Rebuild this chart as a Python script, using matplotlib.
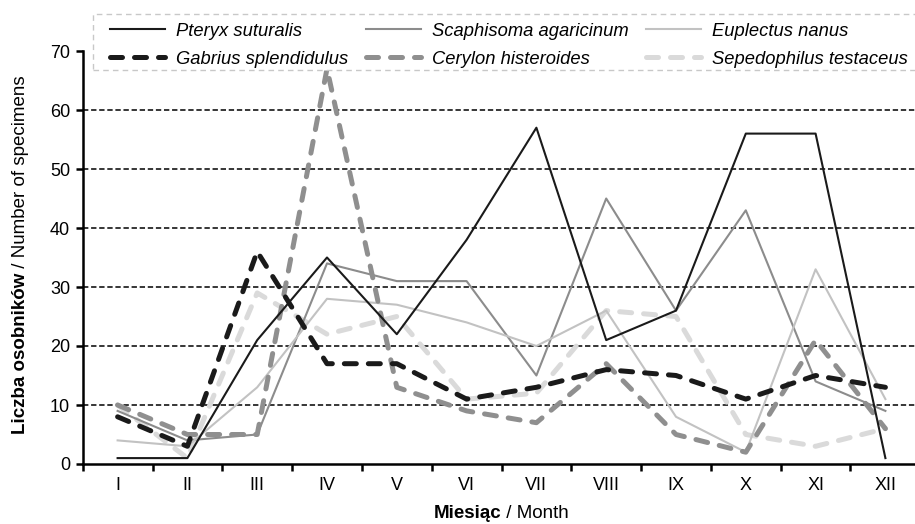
import matplotlib
matplotlib.use('Agg')
import matplotlib.pyplot as plt
from matplotlib.patches import Rectangle
import numpy as np

plt.rcParams['font.family'] = ['Liberation Sans', 'DejaVu Sans']

months = ['I', 'II', 'III', 'IV', 'V', 'VI', 'VII', 'VIII', 'IX', 'X', 'XI', 'XII']
pteryx = [1, 1, 21, 35, 22, 38, 57, 21, 26, 56, 56, 1]
scaphisoma = [9, 4, 5, 34, 31, 31, 15, 45, 26, 43, 14, 9]
euplectus = [4, 3, 13, 28, 27, 24, 20, 26, 8, 2, 33, 11]
gabrius = [8, 3, 36, 17, 17, 11, 13, 16, 15, 11, 15, 13]
cerylon = [10, 5, 5, 67, 13, 9, 7, 17, 5, 2, 21, 6]
sepedophilus = [10, 1, 29, 22, 25, 11, 12, 26, 25, 5, 3, 6]

W, H = 915, 524
fig = plt.figure(figsize=(W / 100, H / 100), dpi=100)
ax = fig.add_axes([82.7 / W, 60 / H, 837.6 / W, 413 / H])
x = np.arange(1, len(months) + 1)

# grid lines
for v in range(10, 70, 10):
    ax.axhline(v, color='black', lw=1.1, ls=(0, (3.5, 1.8)), zorder=1)

dash = (0, (2.4, 2.4))
l_pt, = ax.plot(x, pteryx, color='#1a1a1a', lw=1.5, zorder=5, label='Pteryx suturalis')
l_sc, = ax.plot(x, scaphisoma, color='#8c8c8c', lw=1.5, zorder=3, label='Scaphisoma agaricinum')
l_eu, = ax.plot(x, euplectus, color='#c2c2c2', lw=1.5, zorder=3, label='Euplectus nanus')
l_ga, = ax.plot(x, gabrius, color='#1a1a1a', lw=3.6, ls=dash, dash_capstyle='round',
                zorder=4, label='Gabrius splendidulus')
l_ce, = ax.plot(x, cerylon, color='#8f8f8f', lw=3.6, ls=dash, dash_capstyle='round',
                zorder=3, label='Cerylon histeroides')
l_se, = ax.plot(x, sepedophilus, color='#dadada', lw=3.6, ls=dash, dash_capstyle='round',
                zorder=2, label='Sepedophilus testaceus')

ax.set_xlim(0.5, 12.5)
ax.set_ylim(0, 70)
ax.set_yticks(range(0, 71, 10))
ax.set_xticks(x)
ax.set_xticklabels(months)
ax.set_xticks(np.arange(0.5, 12.6, 1), minor=True)
ax.tick_params(axis='x', which='major', length=0, pad=9, labelsize=13)
ax.tick_params(axis='x', which='minor', length=5, width=1.8, direction='out')
ax.tick_params(axis='y', length=5, width=1.8, direction='out', pad=4, labelsize=13)
for s in ['top', 'right']:
    ax.spines[s].set_visible(False)
for s in ['left', 'bottom']:
    ax.spines[s].set_linewidth(1.8)

# legend box drawn separately
frame = Rectangle((93 / W, 1 - 70 / H), (925 - 93) / W, 56 / H, transform=fig.transFigure,
                  facecolor='white', edgecolor='#c8c8c8', lw=1.0, ls=(0, (4, 3)), zorder=5)
fig.add_artist(frame)

handles = [l_pt, l_ga, l_sc, l_ce, l_eu, l_se]
leg = fig.legend(handles=handles, labels=[h.get_label() for h in handles], ncol=3,
                 loc='upper left', bbox_to_anchor=(110 / W, 1 - 22.5 / H),
                 prop={'style': 'italic', 'size': 13.2}, handlelength=3.0,
                 handletextpad=0.6, labelspacing=0.62, columnspacing=0.95,
                 borderaxespad=0, borderpad=0, frameon=False)
leg.set_zorder(6)

# axis labels with bold / regular parts
fig.canvas.draw()
r = fig.canvas.get_renderer()
fs = 13.5
xb = fig.text(0, 0, 'Miesiąc', fontweight='bold', fontsize=fs)
xn = fig.text(0, 0, ' / Month', fontsize=fs)
wb = xb.get_window_extent(r).width
wn = xn.get_window_extent(r).width
cx = (82.7 + 920) / 2
x0 = cx - (wb + wn) / 2
xb.set_position((x0 / W, 6 / H))
xn.set_position(((x0 + wb) / W, 6 / H))

yb = fig.text(0, 0, 'Liczba osobników', fontweight='bold', fontsize=fs, rotation=90, va='bottom', ha='left')
yn = fig.text(0, 0, ' / Number of specimens', fontsize=fs, rotation=90, va='bottom', ha='left')
hb = yb.get_window_extent(r).height
hn = yn.get_window_extent(r).height
cy = H - 255
y0 = cy - (hb + hn) / 2
yb.set_position((12 / W, y0 / H))
yn.set_position((12 / W, (y0 + hb) / H))

fig.savefig('out.png', dpi=100)
